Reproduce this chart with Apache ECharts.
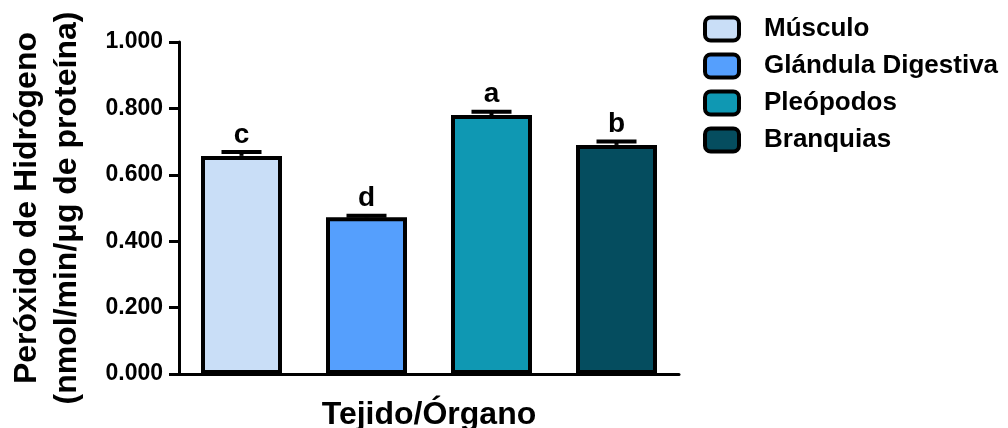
<!DOCTYPE html>
<html>
<head>
<meta charset="utf-8">
<script src="https://cdn.jsdelivr.net/npm/echarts@6/dist/echarts.min.js"></script>
<style>html,body{margin:0;padding:0;background:#fff}#c{width:1008px;height:428px}</style>
</head>
<body>
<div id="c"></div>
<script>
const categories = ['Músculo', 'Glándula Digestiva', 'Pleópodos', 'Branquias'];
const values = [0.657, 0.472, 0.780, 0.690];
const errors = [0.012, 0.005, 0.010, 0.010];
const letters = ['c', 'd', 'a', 'b'];
const colors = ['#c9def7', '#559ffd', '#0f98b3', '#054d5f'];
const yTicks = [0, 0.2, 0.4, 0.6, 0.8, 1.0];

const chart = echarts.init(document.getElementById('c'));
const FONT = '"Liberation Sans", Arial, sans-serif';

const barSeries = categories.map((name, i) => ({
  name: name,
  type: 'bar',
  stack: 'all',
  barWidth: 81,
  data: categories.map((c, j) => j === i ? values[i] : '-'),
  itemStyle: { color: colors[i], borderColor: '#000', borderWidth: 4 },
  emphasis: { disabled: true },
  animation: false
}));

const errSeries = {
  type: 'custom',
  name: 'err',
  z: 5,
  animation: false,
  data: values.map((v, i) => [i, v, errors[i]]),
  renderItem: function (params, api) {
    const i = api.value(0);
    const v = api.value(1);
    const e = api.value(2);
    const p0 = api.coord([i, v]);
    const p1 = api.coord([i, v + e]);
    const hw = 20;
    return {
      type: 'group',
      children: [
        { type: 'line', shape: { x1: p0[0], y1: p0[1], x2: p1[0], y2: p1[1] }, style: { stroke: '#000', lineWidth: 4 } },
        { type: 'line', shape: { x1: p1[0] - hw, y1: p1[1], x2: p1[0] + hw, y2: p1[1] }, style: { stroke: '#000', lineWidth: 4 } },
        { type: 'text', x: p1[0], y: p1[1] - 3, style: { text: letters[params.dataIndex], fill: '#000', font: 'bold 28px ' + FONT, align: 'center', verticalAlign: 'bottom' } }
      ]
    };
  }
};

chart.setOption({
  animation: false,
  grid: { left: 179, right: 329, top: 42, bottom: 54, containLabel: false, outerBoundsMode: 'none' },
  legend: {
    orient: 'vertical',
    left: 703,
    top: 14,
    padding: 0,
    itemWidth: 34,
    itemHeight: 23,
    itemGap: 7,
    icon: 'roundRect',
    data: categories,
    itemStyle: { borderColor: '#000', borderWidth: 4 },
    textStyle: { fontFamily: FONT, fontWeight: 'bold', fontSize: 26, color: '#000', padding: [0, 0, 0, 20], lineHeight: 30 },
    selectedMode: false
  },
  xAxis: {
    type: 'category',
    data: categories,
    name: 'Tejido/Órgano',
    nameLocation: 'middle',
    nameGap: 25,
    nameTextStyle: { fontFamily: FONT, fontWeight: 'bold', fontSize: 32, color: '#000' },
    axisLine: { lineStyle: { color: '#000', width: 3 } },
    axisTick: { show: false },
    axisLabel: { show: false },
    splitLine: { show: false }
  },
  yAxis: {
    type: 'value',
    min: 0,
    max: 1,
    interval: 0.2,
    name: 'Peróxido de Hidrógeno\n(nmol/min/μg de proteína)',
    nameLocation: 'middle',
    nameGap: 92,
    nameRotate: 90,
    nameTextStyle: { fontFamily: FONT, fontWeight: 'bold', fontSize: 32, color: '#000', lineHeight: 40 },
    axisLine: { show: true, lineStyle: { color: '#000', width: 3 } },
    axisTick: { show: true, length: 10, lineStyle: { color: '#000', width: 3 } },
    axisLabel: {
      fontFamily: FONT, fontWeight: 'bold', fontSize: 23, color: '#000', margin: 16,
      formatter: function (v) { return yTicks.some(t => Math.abs(t - v) < 1e-9) ? v.toFixed(3) : ''; }
    },
    splitLine: { show: false }
  },
  series: barSeries.concat([errSeries])
});
</script>
</body>
</html>
